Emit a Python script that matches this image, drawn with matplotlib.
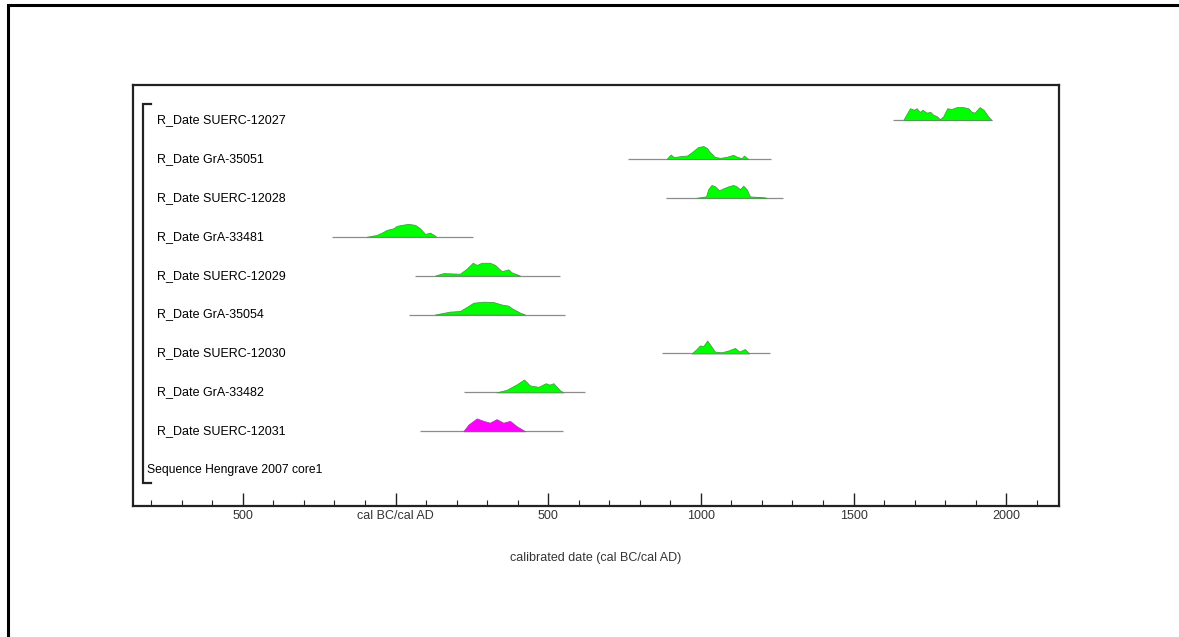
"""OxCal-style multiplot: Sequence Hengrave 2007 core1 (calibrated R_Dates)."""
import numpy as np
import matplotlib
matplotlib.use("Agg")
import matplotlib.pyplot as plt
from matplotlib.lines import Line2D

plt.rcParams.update({"font.family": ["Liberation Sans", "DejaVu Sans"]})

# rows, top to bottom
LABELS = ["R_Date SUERC-12027", "R_Date GrA-35051", "R_Date SUERC-12028",
          "R_Date GrA-33481", "R_Date SUERC-12029", "R_Date GrA-35054",
          "R_Date SUERC-12030", "R_Date GrA-33482", "R_Date SUERC-12031"]
SEQ_LABEL = "Sequence Hengrave 2007 core1"

# full extent of each distribution (thin grey line), years BC(-)/AD
RANGES = [(1630, 1955), (760, 1230), (886, 1270), (-209, 255), (64, 539),
          (45, 555), (872, 1228), (225, 620), (80, 550)]

# probability profiles: (years, relative density)
YEARS = [
    [1663, 1685, 1698, 1707, 1717, 1726, 1739, 1752, 1760, 1773, 1783, 1794,
     1807, 1821, 1838, 1859, 1876, 1887, 1897, 1913, 1926, 1941, 1952],
    [888, 901, 912, 932, 955, 975, 991, 1008, 1019, 1030, 1046, 1063, 1084,
     1106, 1119, 1134, 1141, 1155],
    [986, 1017, 1024, 1035, 1046, 1060, 1073, 1090, 1106, 1117, 1128, 1139,
     1150, 1161, 1204, 1215],
    [-94, -62, -45, -29, -7, 4, 20, 42, 64, 80, 97, 113, 126, 133],
    [129, 157, 211, 233, 253, 266, 282, 309, 326, 348, 369, 380, 408],
    [129, 178, 211, 233, 255, 287, 320, 348, 369, 380, 408, 424],
    [970, 986, 997, 1008, 1021, 1032, 1046, 1068, 1090, 1112, 1126, 1144, 1158],
    [331, 364, 397, 421, 440, 468, 492, 504, 517, 539, 550],
    [222, 239, 266, 288, 309, 331, 353, 375, 397, 424],
]
DENS = [
    [0, 10.7, 9.3, 10.7, 7.3, 9.3, 6.7, 7.3, 5, 3.3, 0.7, 3.3,
     10.7, 10, 11.7, 11.7, 10.7, 7.3, 6.7, 11.7, 9.3, 3.3, 0],
    [0, 4.3, 1.7, 2.7, 3.3, 7.7, 11.7, 12.7, 11, 6.7, 2, 1, 2, 4, 2, 0.7, 3.3, 0],
    [0, 1.3, 8, 12, 10.7, 7, 8.7, 10.7, 12, 10.7, 8, 11.3, 8, 1.3, 0.5, 0],
    [0, 1.7, 4, 6.7, 8.3, 10.7, 11.7, 12.7, 11.7, 8.3, 2.7, 4, 1.7, 0],
    [0, 2.3, 1.7, 6.3, 11.7, 9.7, 11.7, 11.7, 9.7, 4, 5.7, 3, 0],
    [0, 2.7, 3.3, 7, 11, 12, 11.7, 9.3, 8.3, 6, 1.7, 0],
    [0, 4, 7.3, 6.7, 11.7, 7.3, 1.7, 1, 2.7, 5, 1.7, 4, 0],
    [0, 2.3, 7.3, 11.7, 6.3, 5, 8.3, 7, 8.3, 1.7, 0],
    [0, 6.3, 12, 9.7, 8, 11.3, 8, 9.7, 4.7, 0],
]
FILL = ["#00ff00"] * 8 + ["#ff00ff"]
EDGE = ["#4a9a4a"] * 8 + ["#9a4a9a"]

MAJOR = [-500, 0, 500, 1000, 1500, 2000]
MAJOR_LBL = ["500", "cal BC/cal AD", "500", "1000", "1500", "2000"]
MINOR = list(range(-800, 2101, 100))

PEAK = 0.33  # tallest point of each profile, in row units

fig = plt.figure(figsize=(11.79, 6.37), dpi=100)
ax = fig.add_axes([0.1128, 0.2057, 0.7854, 0.6609])

for i, lab in enumerate(LABELS):
    lo, hi = RANGES[i]
    ax.plot([lo, hi], [i, i], color="#8c8c8c", lw=0.9, solid_capstyle="butt", zorder=1)
    x = np.array(YEARS[i], float)
    d = np.array(DENS[i], float)
    ax.fill_between(x, i, i - d / d.max() * PEAK, facecolor=FILL[i],
                    edgecolor=EDGE[i], lw=0.6, zorder=2)
    ax.text(0.0259, i, lab, transform=ax.get_yaxis_transform(), ha="left",
            va="center", fontsize=9)
ax.text(0.0151, len(LABELS), SEQ_LABEL, transform=ax.get_yaxis_transform(),
        ha="left", va="center", fontsize=8.7)

# sequence bracket
tr = ax.get_yaxis_transform()
ax.plot([0.0194, 0.0108, 0.0108, 0.0194], [-0.41, -0.41, 9.33, 9.33],
        transform=tr, color="#222222", lw=1.6, solid_joinstyle="miter", clip_on=False)

ax.set_xlim(-860, 2173)
ax.set_ylim(9.92, -0.9)
ax.set_yticks([])
ax.set_xticks(MAJOR)
ax.set_xticklabels(MAJOR_LBL)
ax.set_xticks(MINOR, minor=True)
ax.tick_params(axis="x", which="major", direction="in", length=9.5, width=1.0,
               labelsize=9, pad=3, colors="#222222", labelcolor="#333333")
ax.tick_params(axis="x", which="minor", direction="in", length=4.5, width=0.8,
               colors="#222222")
for s in ax.spines.values():
    s.set_linewidth(1.6)
    s.set_color("#222222")

fig.text(596 / 1179, 1 - 558 / 637, "calibrated date (cal BC/cal AD)",
         ha="center", va="center", fontsize=9, color="#333333")

# outer frame (only left and top edges visible)
fig.add_artist(Line2D([8 / 1179, 8 / 1179, 1.0], [0.0, 1 - 5 / 637, 1 - 5 / 637],
                      transform=fig.transFigure, color="black", lw=2.2,
                      solid_joinstyle="miter"))

fig.savefig("out.png", dpi=100)
